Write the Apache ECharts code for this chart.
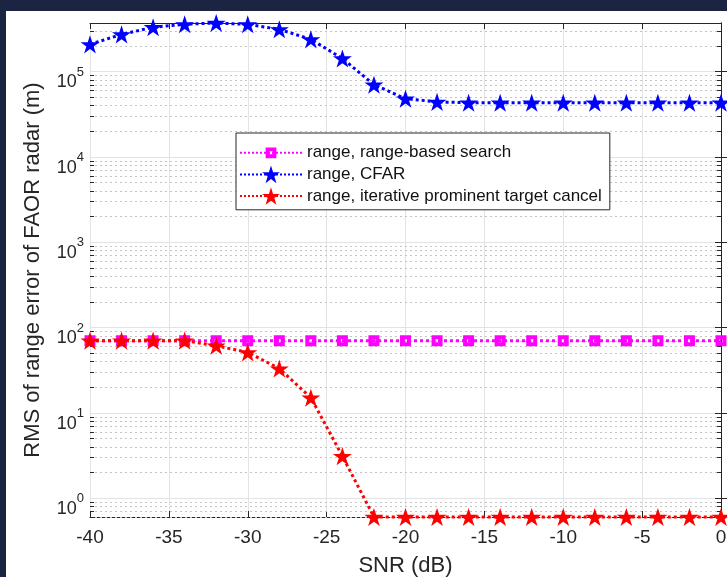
<!DOCTYPE html>
<html>
<head>
<meta charset="utf-8">
<title>RMS range error vs SNR</title>
<script src="https://cdn.jsdelivr.net/npm/echarts@6/dist/echarts.min.js"></script>
<style>
  html, body { margin: 0; padding: 0; width: 727px; height: 577px; overflow: hidden; background: #1b2440; }
  #chart { position: absolute; left: 6px; top: 11px; width: 760px; height: 600px; background: #fff; }
</style>
</head>
<body>
<div id="chart"></div>
<script>
// SNR values (dB)
const snr = [-40, -38, -36, -34, -32, -30, -28, -26, -24, -22, -20, -18, -16, -14, -12, -10, -8, -6, -4, -2, 0];

// RMS range error (m)
const rangeSearch = [70, 70, 70, 70, 70, 70, 70, 70, 70, 70, 70, 70, 70, 70, 70, 70, 70, 70, 70, 70, 70];
const rangeCfar = [2.08e5, 2.72e5, 3.3e5, 3.57e5, 3.7e5, 3.57e5, 3.12e5, 2.38e5, 1.42e5, 7.0e4, 4.8e4,
  4.4e4, 4.3e4, 4.3e4, 4.3e4, 4.3e4, 4.3e4, 4.3e4, 4.3e4, 4.3e4, 4.3e4];
const rangeCancel = [70, 70, 70, 70, 61, 51, 33, 15, 3.1, 0.6, 0.6,
  0.6, 0.6, 0.6, 0.6, 0.6, 0.6, 0.6, 0.6, 0.6, 0.6];

const seriesNames = [
  'range, range-based search',
  'range, CFAR',
  'range, iterative prominent target cancel'
];

const yMin = 0.6;
const yMax = 3.7e5;
const xMin = -40;
const xMax = 0;

const FONT = "'Liberation Sans', Arial, sans-serif";
const INK = '#262626';
const STAR = 'path://M100,0 L122.45,69.1 L195.1,69.1 L136.3,111.8 L158.8,180.9 L100,138.2 L41.2,180.9 L63.7,111.8 L4.9,69.1 L77.55,69.1 Z';
// square marker with a small hole, padded so it shrinks in the legend box
const SQUARE = 'path://M0,0 M18,18 M3.5,3.5 L14.5,3.5 L14.5,14.5 L3.5,14.5 Z M7.5,7.5 L7.5,10.5 L10.5,10.5 L10.5,7.5 Z';

// minor log grid positions (2..9 x 10^k inside the y range)
const minorValues = [];
for (let k = -1; k <= 5; k++) {
  for (let m = 2; m <= 9; m++) {
    const v = m * Math.pow(10, k);
    if (v > yMin && v < yMax) minorValues.push([xMin, v]);
  }
}

const chartDom = document.getElementById('chart');
const myChart = echarts.init(chartDom);

function isDecade(v) {
  const l = Math.log10(v);
  return Math.abs(l - Math.round(l)) < 1e-6;
}

const option = {
  animation: false,
  textStyle: { fontFamily: FONT },
  grid: { left: 84, top: 12, right: 45, bottom: 94 },
  legend: {
    data: seriesNames,
    orient: 'vertical',
    left: 230,
    top: 122,
    padding: [11, 8, 5, 3],
    itemGap: 4,
    itemWidth: 62,
    itemHeight: 22,
    backgroundColor: '#fff',
    borderColor: INK,
    borderWidth: 1,
    textStyle: { fontSize: 17, color: '#111', fontFamily: FONT }
  },
  xAxis: [
    {
      type: 'value',
      min: xMin,
      max: xMax,
      interval: 5,
      name: 'SNR (dB)',
      nameLocation: 'middle',
      nameGap: 38,
      nameTextStyle: { fontSize: 22, color: INK, fontFamily: FONT },
      axisLine: { show: true, lineStyle: { color: INK, width: 1 } },
      axisTick: { show: true, inside: true, length: 6, lineStyle: { color: INK } },
      axisLabel: { fontSize: 19, color: INK, margin: 11, fontFamily: FONT },
      splitLine: { show: true, lineStyle: { color: '#e3e3e3', width: 1 } }
    },
    {
      type: 'value',
      position: 'top',
      min: xMin,
      max: xMax,
      interval: 5,
      axisLine: { show: true, lineStyle: { color: INK, width: 1 } },
      axisTick: { show: true, inside: true, length: 6, lineStyle: { color: INK } },
      axisLabel: { show: false },
      splitLine: { show: false }
    }
  ],
  yAxis: [
    {
      type: 'log',
      logBase: 10,
      min: yMin,
      max: yMax,
      name: 'RMS of range error of FAOR radar (m)',
      nameLocation: 'middle',
      nameGap: 46,
      nameTextStyle: { fontSize: 22, color: INK, fontFamily: FONT },
      axisLine: { show: true, lineStyle: { color: INK, width: 1 } },
      axisTick: { show: true, inside: true, length: 6, lineStyle: { color: INK } },
      axisLabel: {
        showMinLabel: false,
        showMaxLabel: false,
        margin: 6,
        padding: [14, 0, 0, 0],
        formatter: function (v) {
          if (!isDecade(v)) return '';
          return '{b|10}{s|' + Math.round(Math.log10(v)) + '}';
        },
        rich: {
          b: { fontSize: 18, color: INK, fontFamily: FONT, lineHeight: 26, verticalAlign: 'bottom' },
          s: { fontSize: 13, color: INK, fontFamily: FONT, lineHeight: 14, verticalAlign: 'top' }
        }
      },
      splitLine: { show: true, lineStyle: { color: '#e3e3e3', width: 1 } }
    },
    {
      type: 'log',
      logBase: 10,
      position: 'right',
      min: yMin,
      max: yMax,
      axisLine: { show: true, lineStyle: { color: INK, width: 1 } },
      axisTick: { show: true, inside: true, length: 6, lineStyle: { color: INK } },
      axisLabel: { show: false },
      splitLine: { show: false }
    }
  ],
  series: [
    {
      name: 'minor grid',
      type: 'custom',
      xAxisIndex: 0,
      yAxisIndex: 0,
      silent: true,
      z: 1,
      data: minorValues,
      renderItem: function (params, api) {
        const v = api.value(1);
        const p0 = api.coord([xMin, v]);
        const p1 = api.coord([xMax, v]);
        const y = Math.round(p0[1]) + 0.5;
        return {
          type: 'group',
          children: [
            {
              type: 'line',
              shape: { x1: p0[0], y1: y, x2: p1[0], y2: y },
              style: { stroke: '#c4c4c4', lineWidth: 1, lineDash: [2, 3] }
            },
            {
              type: 'line',
              shape: { x1: p0[0], y1: y, x2: p0[0] + 4, y2: y },
              style: { stroke: INK, lineWidth: 1 }
            },
            {
              type: 'line',
              shape: { x1: p1[0] - 4, y1: y, x2: p1[0], y2: y },
              style: { stroke: INK, lineWidth: 1 }
            }
          ]
        };
      }
    },
    {
      name: seriesNames[0],
      type: 'line',
      data: snr.map((x, i) => [x, rangeSearch[i]]),
      clip: false,
      z: 3,
      symbol: SQUARE,
      symbolSize: 18,
      lineStyle: { color: '#ff00ff', width: 3, type: 'dotted' },
      itemStyle: { color: '#ff00ff', borderWidth: 0 }
    },
    {
      name: seriesNames[1],
      type: 'line',
      data: snr.map((x, i) => [x, rangeCfar[i]]),
      clip: false,
      z: 4,
      symbol: STAR,
      symbolSize: 19,
      symbolKeepAspect: true,
      lineStyle: { color: '#0000ff', width: 3, type: 'dotted' },
      itemStyle: { color: '#0000ff' }
    },
    {
      name: seriesNames[2],
      type: 'line',
      data: snr.map((x, i) => [x, rangeCancel[i]]),
      clip: false,
      z: 5,
      symbol: STAR,
      symbolSize: 19,
      symbolKeepAspect: true,
      lineStyle: { color: '#ff0000', width: 3, type: 'dotted' },
      itemStyle: { color: '#ff0000' }
    }
  ]
};

myChart.setOption(option);

window.addEventListener('resize', myChart.resize);
</script>
</body>
</html>
